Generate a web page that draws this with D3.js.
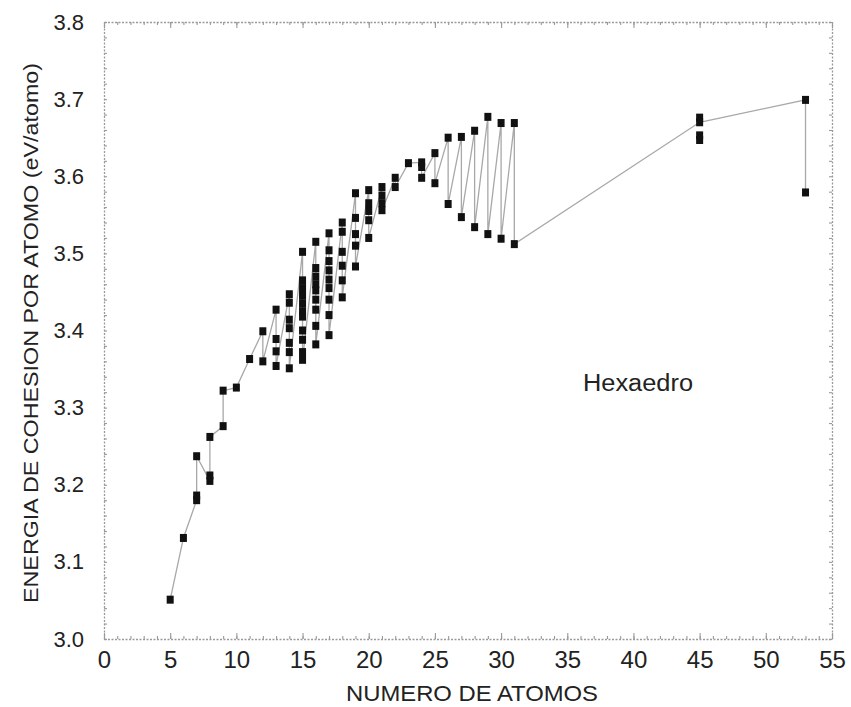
<!DOCTYPE html>
<html>
<head>
<meta charset="utf-8">
<script src="https://cdn.jsdelivr.net/npm/d3@7"></script>
<style>
  html, body { margin: 0; padding: 0; background: #fff; }
  svg { display: block; }
  text { font-family: "Liberation Sans", Arial, Helvetica, sans-serif; fill: #222; }
</style>
</head>
<body>
<div id="chart"></div>
<script>
// ---- data ----
// path order of the connected series: number of atoms / cohesive energy per atom (eV)
const atomCounts = [
  5, 6, 7, 7, 7, 8, 8, 8, 9, 9, 10, 11,
  12, 12,
  13, 13, 13, 13,
  14, 14, 14, 14, 14, 14, 14,
  15, 15, 15, 15, 15, 15, 15, 15, 15, 15, 15,
  16, 16, 16, 16, 16, 16, 16, 16, 16,
  17, 17, 17, 17, 17, 17, 17, 17, 17,
  18, 18, 18, 18, 18, 18,
  19, 19, 19, 19, 19,
  20, 20, 20, 20, 20,
  21, 21, 21, 21,
  22, 22, 23, 24, 24, 24,
  25, 25, 26, 26, 27, 27, 28, 28, 29, 29, 30, 30, 31, 31,
  45, 53, 53
];
const energies = [
  3.051, 3.131, 3.180, 3.186, 3.237, 3.205, 3.212, 3.262, 3.276, 3.322, 3.326, 3.363,
  3.399, 3.360,
  3.427, 3.389, 3.373, 3.354,
  3.447, 3.436, 3.414, 3.403, 3.384, 3.372, 3.351,
  3.502, 3.465, 3.455, 3.445, 3.435, 3.425, 3.418, 3.400, 3.388, 3.372, 3.362,
  3.515, 3.481, 3.470, 3.460, 3.452, 3.440, 3.427, 3.406, 3.382,
  3.526, 3.504, 3.490, 3.478, 3.466, 3.455, 3.440, 3.420, 3.394,
  3.540, 3.528, 3.502, 3.484, 3.465, 3.443,
  3.578, 3.546, 3.525, 3.510, 3.483,
  3.582, 3.565, 3.555, 3.543, 3.520,
  3.586, 3.575, 3.565, 3.556,
  3.598, 3.586, 3.617, 3.618, 3.612, 3.598,
  3.630, 3.591, 3.650, 3.564, 3.651, 3.547, 3.659, 3.534, 3.677, 3.525, 3.669, 3.519, 3.669, 3.512,
  3.670, 3.699, 3.579
];
// points drawn without a connecting line
const extraAtomCounts = [45, 45, 45];
const extraEnergies = [3.676, 3.653, 3.647];

const xTickValues = [0, 5, 10, 15, 20, 25, 30, 35, 40, 45, 50, 55];
const yTickValues = [3.0, 3.1, 3.2, 3.3, 3.4, 3.5, 3.6, 3.7, 3.8];
const xLabel = "NUMERO DE ATOMOS";
const yLabel = "ENERGIA DE COHESION POR ATOMO (eV/atomo)";
const annotation = "Hexaedro";

// ---- layout ----
const W = 851, H = 707;
const M = { left: 104, right: 19, top: 22, bottom: 68 };

const svg = d3.select("#chart").append("svg")
  .attr("width", W).attr("height", H);

const x = d3.scaleLinear().domain([0, 55]).range([M.left, W - M.right]);
const y = d3.scaleLinear().domain([3.0, 3.8]).range([H - M.bottom, M.top]);

const frameColor = "#9a9a9a";

function styleAxis(g) {
  g.select(".domain").attr("stroke", frameColor).attr("stroke-dasharray", "2,1.5").attr("stroke-width", 1.3);
  g.selectAll(".tick line").attr("stroke", frameColor).attr("stroke-width", 1.1);
  g.selectAll(".tick text").remove();
}
function majorOnly(g) {
  g.select(".domain").remove();
  g.selectAll(".tick line").attr("stroke", frameColor).attr("stroke-width", 1.1);
  g.selectAll(".tick text").remove();
}
const xMinor = d3.range(0, 56, 1);
const yMinor = d3.range(300, 381, 2).map(v => v / 100);

svg.append("g").attr("transform", `translate(0,${y(3.0)})`)
  .call(d3.axisBottom(x).tickValues(xMinor).tickSizeInner(-3).tickSizeOuter(0))
  .call(styleAxis);
svg.append("g").attr("transform", `translate(0,${y(3.0)})`)
  .call(d3.axisBottom(x).tickValues(xTickValues).tickSizeInner(-6).tickSizeOuter(0))
  .call(majorOnly);
svg.append("g").attr("transform", `translate(0,${y(3.8)})`)
  .call(d3.axisTop(x).tickValues(xMinor).tickSizeInner(-3).tickSizeOuter(0))
  .call(styleAxis);
svg.append("g").attr("transform", `translate(0,${y(3.8)})`)
  .call(d3.axisTop(x).tickValues(xTickValues).tickSizeInner(-6).tickSizeOuter(0))
  .call(majorOnly);
svg.append("g").attr("transform", `translate(${x(0)},0)`)
  .call(d3.axisLeft(y).tickValues(yMinor).tickSizeInner(-3).tickSizeOuter(0))
  .call(styleAxis);
svg.append("g").attr("transform", `translate(${x(55)},0)`)
  .call(d3.axisRight(y).tickValues(yMinor).tickSizeInner(-3).tickSizeOuter(0))
  .call(styleAxis);

// tick labels
const xLab = svg.append("g").attr("transform", `translate(0,${y(3.0)})`)
  .call(d3.axisBottom(x).tickValues(xTickValues).tickSize(0).tickPadding(12).tickFormat(d3.format("d")));
xLab.select(".domain").remove();
xLab.selectAll(".tick text")
  .style("font-size", "24px").attr("fill", "#222")
  .attr("font-family", "'Liberation Sans Narrow', 'Liberation Sans', Arial, sans-serif");

const yLab = svg.append("g").attr("transform", `translate(${x(0)},0)`)
  .call(d3.axisLeft(y).tickValues(yTickValues).tickSize(0).tickPadding(20).tickFormat(d3.format(".1f")));
yLab.select(".domain").remove();
yLab.selectAll(".tick text").style("font-size", "22px").attr("fill", "#333");

// axis titles
svg.append("text")
  .attr("x", 472).attr("y", 701)
  .attr("text-anchor", "middle")
  .style("font-size", "22px")
  .attr("textLength", 252).attr("lengthAdjust", "spacingAndGlyphs")
  .text(xLabel);

svg.append("text")
  .attr("transform", `translate(38,${333}) rotate(-90)`)
  .attr("text-anchor", "middle")
  .style("font-size", "21px")
  .attr("textLength", 540).attr("lengthAdjust", "spacingAndGlyphs")
  .text(yLabel);

svg.append("text")
  .attr("x", 583).attr("y", 391)
  .style("font-size", "23px")
  .attr("textLength", 110).attr("lengthAdjust", "spacingAndGlyphs")
  .text(annotation);

// ---- series ----
const pts = atomCounts.map((n, i) => ({ n, e: energies[i] }));
const extra = extraAtomCounts.map((n, i) => ({ n, e: extraEnergies[i] }));

const line = d3.line().x(d => x(d.n)).y(d => y(d.e));
svg.append("path").datum(pts)
  .attr("d", line)
  .attr("fill", "none")
  .attr("stroke", "#a8a8a8")
  .attr("stroke-width", 1.3);

const sw = 7, sh = 8;
svg.append("g").selectAll("rect")
  .data(pts.concat(extra))
  .join("rect")
  .attr("x", d => x(d.n) - sw / 2)
  .attr("y", d => y(d.e) - sh / 2)
  .attr("width", sw).attr("height", sh)
  .attr("fill", "#111");
</script>
</body>
</html>
